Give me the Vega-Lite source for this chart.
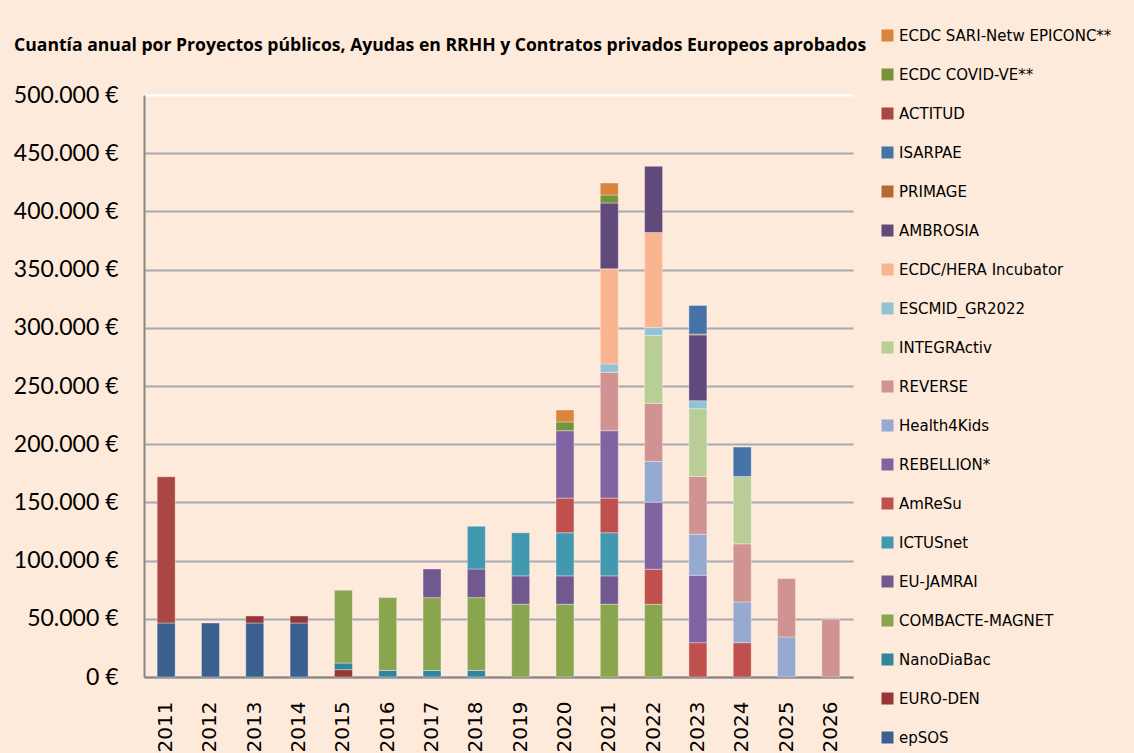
{
  "$schema": "https://vega.github.io/schema/vega-lite/v6.json",
  "autosize": {"type": "none"},
  "width": 709,
  "height": 582,
  "padding": {"left": 144, "top": 95, "right": 281, "bottom": 76},
  "background": "#FDEADA",
  "title": {
    "text": "Cuantía anual por Proyectos públicos, Ayudas en RRHH y  Contratos privados Europeos aprobados",
    "anchor": "start",
    "frame": "group",
    "orient": "top",
    "dx": -130,
    "offset": -36,
    "baseline": "middle",
    "font": "Open Sans",
    "fontWeight": "bold",
    "fontSize": 17.6,
    "color": "#000000"
  },
  "datasets": {
    "stackOrder": [
      {"project": "epSOS", "rank": 1},
      {"project": "EURO-DEN", "rank": 2},
      {"project": "NanoDiaBac", "rank": 3},
      {"project": "COMBACTE-MAGNET", "rank": 4},
      {"project": "EU-JAMRAI", "rank": 5},
      {"project": "ICTUSnet", "rank": 6},
      {"project": "AmReSu", "rank": 7},
      {"project": "REBELLION*", "rank": 8},
      {"project": "Health4Kids", "rank": 9},
      {"project": "REVERSE", "rank": 10},
      {"project": "INTEGRActiv", "rank": 11},
      {"project": "ESCMID_GR2022", "rank": 12},
      {"project": "ECDC/HERA Incubator", "rank": 13},
      {"project": "AMBROSIA", "rank": 14},
      {"project": "PRIMAGE", "rank": 15},
      {"project": "ISARPAE", "rank": 16},
      {"project": "ACTITUD", "rank": 17},
      {"project": "ECDC COVID-VE**", "rank": 18},
      {"project": "ECDC SARI-Netw EPICONC**", "rank": 19}
    ]
  },
  "data": {
    "values": [
      {"year": "2011", "project": "epSOS", "value": 46400},
      {"year": "2011", "project": "ACTITUD", "value": 125600},
      {"year": "2012", "project": "epSOS", "value": 46400},
      {"year": "2013", "project": "epSOS", "value": 46400},
      {"year": "2013", "project": "EURO-DEN", "value": 6000},
      {"year": "2014", "project": "epSOS", "value": 46400},
      {"year": "2014", "project": "EURO-DEN", "value": 6000},
      {"year": "2015", "project": "EURO-DEN", "value": 6300},
      {"year": "2015", "project": "NanoDiaBac", "value": 5700},
      {"year": "2015", "project": "COMBACTE-MAGNET", "value": 62500},
      {"year": "2016", "project": "NanoDiaBac", "value": 5700},
      {"year": "2016", "project": "COMBACTE-MAGNET", "value": 62500},
      {"year": "2017", "project": "NanoDiaBac", "value": 5700},
      {"year": "2017", "project": "COMBACTE-MAGNET", "value": 62500},
      {"year": "2017", "project": "EU-JAMRAI", "value": 24600},
      {"year": "2018", "project": "NanoDiaBac", "value": 5700},
      {"year": "2018", "project": "COMBACTE-MAGNET", "value": 62500},
      {"year": "2018", "project": "EU-JAMRAI", "value": 24600},
      {"year": "2018", "project": "ICTUSnet", "value": 36700},
      {"year": "2019", "project": "COMBACTE-MAGNET", "value": 62500},
      {"year": "2019", "project": "EU-JAMRAI", "value": 24400},
      {"year": "2019", "project": "ICTUSnet", "value": 37000},
      {"year": "2020", "project": "COMBACTE-MAGNET", "value": 62500},
      {"year": "2020", "project": "EU-JAMRAI", "value": 24400},
      {"year": "2020", "project": "ICTUSnet", "value": 37000},
      {"year": "2020", "project": "AmReSu", "value": 29800},
      {"year": "2020", "project": "REBELLION*", "value": 57900},
      {"year": "2020", "project": "ECDC COVID-VE**", "value": 7500},
      {"year": "2020", "project": "ECDC SARI-Netw EPICONC**", "value": 10300},
      {"year": "2021", "project": "COMBACTE-MAGNET", "value": 62500},
      {"year": "2021", "project": "EU-JAMRAI", "value": 24400},
      {"year": "2021", "project": "ICTUSnet", "value": 37000},
      {"year": "2021", "project": "AmReSu", "value": 29800},
      {"year": "2021", "project": "REBELLION*", "value": 57900},
      {"year": "2021", "project": "REVERSE", "value": 50200},
      {"year": "2021", "project": "ESCMID_GR2022", "value": 7200},
      {"year": "2021", "project": "ECDC/HERA Incubator", "value": 81700},
      {"year": "2021", "project": "AMBROSIA", "value": 56500},
      {"year": "2021", "project": "ECDC COVID-VE**", "value": 6900},
      {"year": "2021", "project": "ECDC SARI-Netw EPICONC**", "value": 10300},
      {"year": "2022", "project": "COMBACTE-MAGNET", "value": 62500},
      {"year": "2022", "project": "AmReSu", "value": 30100},
      {"year": "2022", "project": "REBELLION*", "value": 57600},
      {"year": "2022", "project": "Health4Kids", "value": 35000},
      {"year": "2022", "project": "REVERSE", "value": 49900},
      {"year": "2022", "project": "INTEGRActiv", "value": 58200},
      {"year": "2022", "project": "ESCMID_GR2022", "value": 6900},
      {"year": "2022", "project": "ECDC/HERA Incubator", "value": 81700},
      {"year": "2022", "project": "AMBROSIA", "value": 56800},
      {"year": "2023", "project": "AmReSu", "value": 29500},
      {"year": "2023", "project": "REBELLION*", "value": 57900},
      {"year": "2023", "project": "Health4Kids", "value": 35300},
      {"year": "2023", "project": "REVERSE", "value": 49600},
      {"year": "2023", "project": "INTEGRActiv", "value": 58200},
      {"year": "2023", "project": "ESCMID_GR2022", "value": 6900},
      {"year": "2023", "project": "AMBROSIA", "value": 56500},
      {"year": "2023", "project": "PRIMAGE", "value": 700},
      {"year": "2023", "project": "ISARPAE", "value": 24600},
      {"year": "2024", "project": "AmReSu", "value": 29500},
      {"year": "2024", "project": "Health4Kids", "value": 35000},
      {"year": "2024", "project": "REVERSE", "value": 49900},
      {"year": "2024", "project": "INTEGRActiv", "value": 57900},
      {"year": "2024", "project": "ISARPAE", "value": 25200},
      {"year": "2025", "project": "Health4Kids", "value": 34400},
      {"year": "2025", "project": "REVERSE", "value": 50200},
      {"year": "2026", "project": "REVERSE", "value": 49600}
    ]
  },
  "transform": [
    {"lookup": "project", "from": {"data": {"name": "stackOrder"}, "key": "project", "fields": ["rank"]}}
  ],
  "mark": {"type": "bar", "stroke": "#ffffff", "strokeOpacity": 0.35, "strokeWidth": 1},
  "encoding": {
    "x": {
      "field": "year",
      "type": "ordinal",
      "title": null,
      "scale": {"paddingInner": 0.594, "paddingOuter": 0.297},
      "axis": {
        "labelAngle": -90,
        "labelFont": "DejaVu Sans",
        "labelFontSize": 20,
        "labelColor": "#000000",
        "labelPadding": 24,
        "ticks": false,
        "domainColor": "#868686",
        "domainWidth": 2,
        "grid": false
      }
    },
    "y": {
      "field": "value",
      "type": "quantitative",
      "stack": "zero",
      "title": null,
      "scale": {"domain": [0, 500000], "nice": false},
      "axis": {
        "values": [0, 50000, 100000, 150000, 200000, 250000, 300000, 350000, 400000, 450000, 500000],
        "labelExpr": "replace(format(datum.value, ','), ',', '.') + ' €'",
        "labelFont": "Lato",
        "labelFontSize": 23,
        "labelColor": "#000000",
        "labelPadding": 26,
        "ticks": false,
        "domainColor": "#868686",
        "domainWidth": 2,
        "grid": true,
        "gridColor": {"condition": {"test": "datum.value == 500000", "value": "#ffffff"}, "value": "#a8a8b2"},
        "gridWidth": 2
      }
    },
    "order": {"field": "rank", "type": "quantitative", "sort": "ascending"},
    "color": {
      "field": "project",
      "type": "nominal",
      "scale": {
        "domain": ["ECDC SARI-Netw EPICONC**", "ECDC COVID-VE**", "ACTITUD", "ISARPAE", "PRIMAGE", "AMBROSIA", "ECDC/HERA Incubator", "ESCMID_GR2022", "INTEGRActiv", "REVERSE", "Health4Kids", "REBELLION*", "AmReSu", "ICTUSnet", "EU-JAMRAI", "COMBACTE-MAGNET", "NanoDiaBac", "EURO-DEN", "epSOS"],
        "range": ["#DB843D", "#77933C", "#AA4643", "#4572A7", "#B66A31", "#604A7B", "#F9B590", "#92C3D5", "#B9CD96", "#D19392", "#95A9D1", "#8064A2", "#C0504D", "#4198AF", "#71588F", "#89A54E", "#31859C", "#953735", "#3B6090"]
      },
      "legend": {
        "title": null,
        "orient": "none",
        "legendX": 736,
        "legendY": -67,
        "direction": "vertical",
        "symbolType": "square",
        "symbolSize": 144,
        "symbolStrokeWidth": 0,
        "labelFont": "DejaVu Sans",
        "labelFontSize": 15,
        "labelColor": "#000000",
        "labelOffset": 4,
        "rowPadding": 23,
        "padding": 0,
        "labelLimit": 300
      }
    }
  },
  "config": {
    "view": {"stroke": null},
    "axis": {"labelOverlap": false}
  }
}
